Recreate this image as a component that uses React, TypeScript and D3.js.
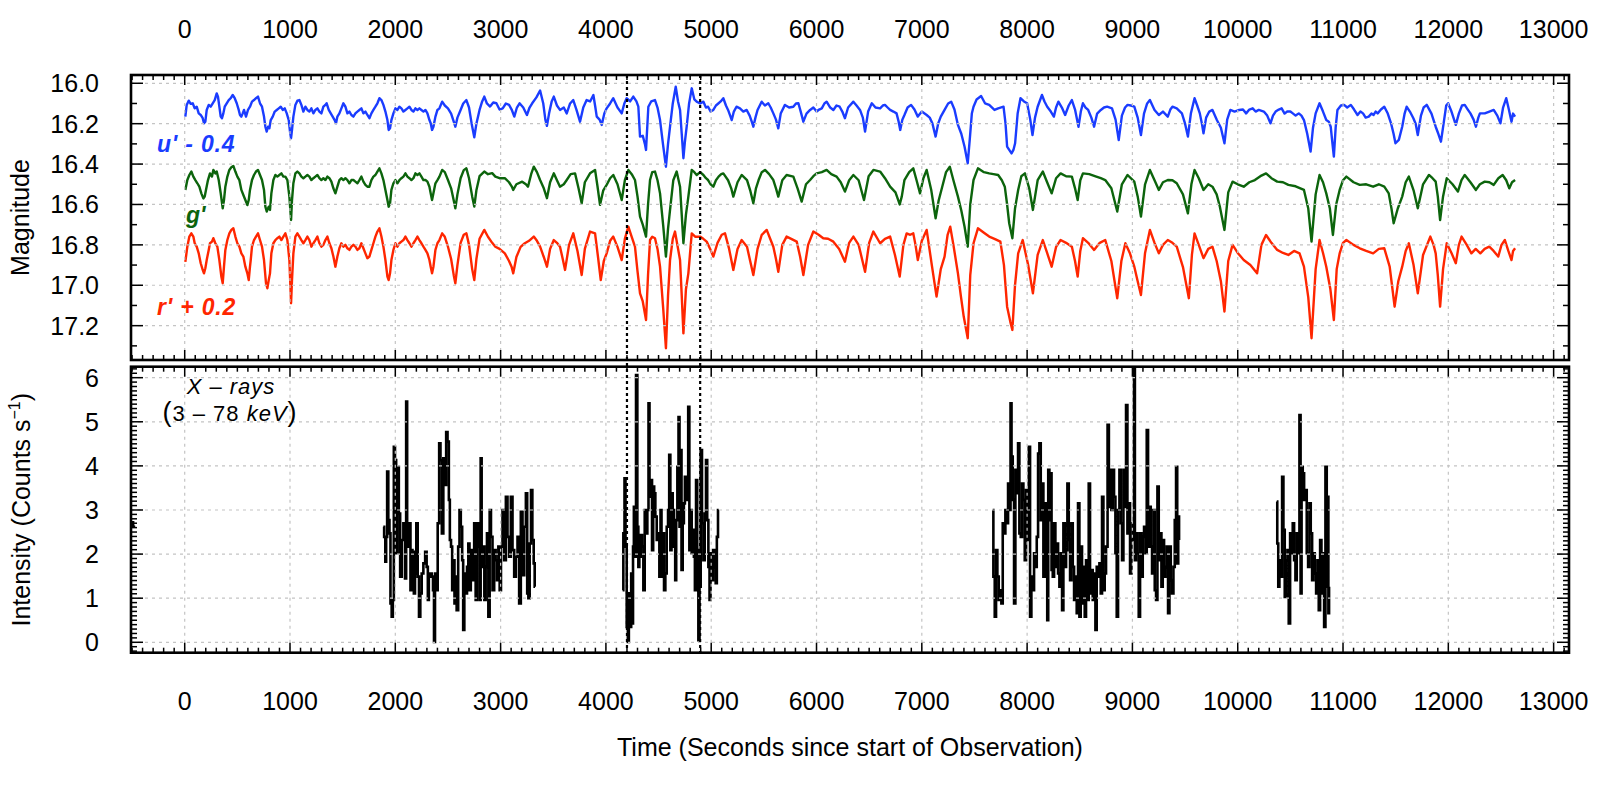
import React from 'react';
import * as d3 from 'd3';

const FONT = "'Liberation Sans', Arial, Helvetica, sans-serif";

// ---------- axis tick values ----------
const timeTicks = [0, 1000, 2000, 3000, 4000, 5000, 6000, 7000, 8000, 9000, 10000, 11000, 12000, 13000];
const magTicks = [16.0, 16.2, 16.4, 16.6, 16.8, 17.0, 17.2];
const rateTicks = [0, 1, 2, 3, 4, 5, 6];

// ---------- dip markers (seconds) ----------
const dipMarkers = [4200, 4895];

// ---------- optical light curves: [time (s), displayed magnitude] ----------
const uBand: [number, number][] = [
  [6,16.165],[19,16.107],[38,16.086],[57,16.102],[76,16.099],[95,16.124],[114,16.116],[133,16.149],[152,16.157],[171,16.173],[183,16.198],[196,16.19],[209,16.132],[228,16.107],[247,16.116],[266,16.099],[285,16.083],[304,16.05],[316,16.066],[329,16.116],[342,16.165],[354,16.173],[367,16.149],[380,16.116],[399,16.099],[418,16.083],[437,16.074],[456,16.058],[475,16.074],[494,16.099],[513,16.132],[525,16.157],[538,16.165],[551,16.149],[563,16.132],[582,16.165],[601,16.132],[620,16.116],[639,16.091],[658,16.083],[677,16.074],[696,16.066],[715,16.099],[734,16.116],[753,16.165],[766,16.215],[779,16.239],[791,16.215],[804,16.223],[817,16.182],[836,16.165],[855,16.14],[874,16.132],[893,16.124],[912,16.116],[931,16.132],[950,16.124],[969,16.149],[988,16.182],[1000,16.239],[1010,16.272],[1019,16.231],[1032,16.165],[1051,16.107],[1070,16.086],[1089,16.083],[1108,16.107],[1127,16.14],[1146,16.116],[1165,16.132],[1184,16.14],[1203,16.124],[1222,16.149],[1241,16.132],[1260,16.124],[1279,16.14],[1298,16.149],[1317,16.116],[1336,16.107],[1348,16.099],[1368,16.132],[1387,16.149],[1405,16.165],[1424,16.182],[1437,16.198],[1450,16.165],[1469,16.149],[1488,16.124],[1507,16.099],[1526,16.116],[1545,16.149],[1564,16.14],[1583,16.157],[1602,16.165],[1621,16.149],[1640,16.14],[1659,16.132],[1678,16.124],[1697,16.149],[1716,16.14],[1735,16.157],[1754,16.173],[1773,16.149],[1792,16.132],[1811,16.116],[1830,16.099],[1849,16.074],[1868,16.083],[1887,16.107],[1906,16.14],[1925,16.182],[1937,16.231],[1950,16.223],[1963,16.182],[1982,16.149],[2001,16.124],[2020,16.132],[2039,16.116],[2058,16.124],[2077,16.14],[2096,16.132],[2115,16.124],[2134,16.116],[2153,16.132],[2172,16.14],[2191,16.124],[2210,16.132],[2229,16.124],[2248,16.132],[2267,16.14],[2286,16.132],[2305,16.149],[2324,16.182],[2336,16.198],[2349,16.231],[2362,16.215],[2381,16.165],[2400,16.132],[2419,16.124],
  [2445,16.091],[2470,16.11],[2500,16.124],[2530,16.15],[2555,16.19],[2570,16.215],[2590,16.17],[2620,16.132],[2645,16.1],[2675,16.083],[2700,16.12],[2725,16.2],[2750,16.267],[2770,16.2],[2800,16.132],[2825,16.09],[2845,16.066],[2870,16.1],[2900,16.115],[2930,16.095],[2960,16.099],[2990,16.13],[3020,16.124],[3050,16.1],[3080,16.107],[3105,16.13],[3130,16.165],[3155,16.12],[3180,16.099],[3215,16.12],[3250,16.157],[3275,16.12],[3300,16.099],[3340,16.07],[3375,16.036],[3405,16.1],[3425,16.18],[3440,16.211],[3460,16.15],[3485,16.09],[3505,16.066],[3535,16.11],[3564,16.132],[3600,16.12],[3628,16.149],[3660,16.1],[3690,16.083],[3720,16.13],[3754,16.19],[3785,16.12],[3817,16.083],[3850,16.09],[3881,16.058],[3900,16.12],[3913,16.165],[3940,16.18],[3960,16.206],[3985,16.15],[4007,16.124],[4040,16.1],[4070,16.074],[4110,16.12],[4150,16.149],[4175,16.1],[4197,16.074],[4230,16.09],[4260,16.066],[4290,16.09],[4308,16.116],[4324,16.264],[4350,16.26],[4370,16.3],[4381,16.33],[4403,16.116],[4430,16.09],[4466,16.083],[4490,16.12],[4514,16.182],[4545,16.314],[4570,16.413],[4590,16.3],[4609,16.215],[4635,16.1],[4663,16.017],[4685,16.09],[4704,16.132],[4720,16.25],[4736,16.371],[4750,16.29],[4767,16.215],[4790,16.1],[4815,16.025],[4840,16.08],[4862,16.091],[4895,16.1],[4926,16.091],[4950,16.12],[4970,16.116],[4995,16.14],[5020,16.132],[5045,16.11],[5070,16.099],[5090,16.09],[5115,16.074],[5140,16.11],[5160,16.132],[5180,16.16],[5195,16.182],[5215,16.14],[5240,16.116],[5273,16.124],[5305,16.14],[5337,16.132],[5365,16.16],[5385,16.19],[5400,16.215],[5420,16.17],[5440,16.132],[5479,16.091],[5510,16.11],[5542,16.099],[5565,16.12],[5590,16.149],[5615,16.18],[5637,16.223],[5660,16.15],[5700,16.107],[5740,16.12],[5780,16.116],[5805,16.1],[5828,16.099],[5850,16.14],[5875,16.19],[5905,16.15],[5939,16.132],[5970,16.12],[6001,16.14],[6025,16.13],[6050,16.124],[6075,16.1],[6096,16.091],[6130,16.12],[6160,16.132],[6190,16.11],[6220,16.116],[6245,16.14],[6270,16.173],[6300,16.12],[6350,16.091],[6380,16.11],[6413,16.132],[6440,16.17],[6461,16.239],[6490,16.14],[6525,16.099],[6560,16.12],[6604,16.124],[6630,16.11],[6650,16.107],[6675,16.12],[6699,16.132],[6730,16.14],[6760,16.149],[6780,16.19],[6795,16.231],[6815,16.18],[6835,16.157],[6865,16.12],[6898,16.107],[6930,16.13],[6962,16.165],[7000,16.14],[7046,16.157],[7075,16.17],[7100,16.198],[7131,16.264],[7155,16.2],[7180,16.165],[7216,16.132],[7250,16.1],[7279,16.091],[7310,16.13],[7343,16.206],[7375,16.25],[7406,16.314],[7436,16.396],[7455,16.28],[7475,16.15],[7491,16.116],[7520,16.08],[7563,16.063],[7600,16.099],[7640,16.107],[7690,16.132],[7725,16.124],[7776,16.116],[7795,16.2],[7810,16.314],[7830,16.33],[7852,16.347],[7870,16.33],[7886,16.297],[7910,16.15],[7937,16.074],[7970,16.09],[8000,16.099],[8030,16.18],[8051,16.256],[8075,16.17],[8100,16.116],[8141,16.058],[8165,16.09],[8191,16.116],[8225,16.14],[8254,16.165],[8275,16.12],[8297,16.091],[8330,16.12],[8361,16.157],[8395,16.11],[8425,16.083],[8455,16.13],[8488,16.215],[8510,16.14],[8530,16.099],[8555,16.12],[8580,16.132],[8610,16.17],[8636,16.215],[8665,16.15],[8700,16.132],[8730,16.12],[8760,16.116],[8806,16.124],[8840,16.18],[8870,16.281],[8900,16.16],[8930,16.12],[8954,16.107],[8985,16.11],[9018,16.116],[9050,16.17],[9081,16.256],[9110,16.15],[9140,16.1],[9166,16.083],[9190,16.11],[9210,16.132],[9251,16.157],[9290,16.14],[9336,16.165],[9360,16.13],[9380,16.116],[9421,16.124],[9470,16.149],[9500,16.2],[9527,16.264],[9555,16.15],[9590,16.074],[9615,16.11],[9640,16.149],[9660,16.2],[9675,16.248],[9700,16.17],[9730,16.14],[9760,16.132],[9802,16.182],[9840,16.22],[9874,16.297],[9900,16.18],[9930,16.132],[9970,16.14],[10014,16.132],[10050,16.13],[10080,16.149],[10110,16.13],[10142,16.124],[10170,16.14],[10200,16.132],[10248,16.14],[10280,16.16],[10311,16.198],[10335,16.16],[10360,16.14],[10390,16.13],[10417,16.124],[10445,16.15],[10470,16.14],[10500,16.14],[10523,16.149],[10550,16.16],[10580,16.149],[10605,16.16],[10629,16.182],[10660,16.25],[10692,16.338],[10715,16.22],[10740,16.149],[10777,16.099],[10810,16.14],[10841,16.182],[10865,16.19],[10883,16.215],[10900,16.3],[10913,16.363],[10930,16.22],[10947,16.132],[10980,16.11],[11010,16.107],[11040,16.12],[11074,16.107],[11105,16.13],[11138,16.157],[11165,16.14],[11190,16.149],[11215,16.17],[11244,16.165],[11270,16.15],[11290,16.157],[11310,16.14],[11329,16.149],[11360,16.13],[11392,16.116],[11425,16.15],[11456,16.198],[11480,16.25],[11498,16.297],[11530,16.28],[11562,16.215],[11585,16.15],[11604,16.116],[11635,16.14],[11668,16.173],[11690,16.2],[11710,16.256],[11740,16.16],[11765,16.12],[11795,16.107],[11840,16.15],[11880,16.215],[11905,16.25],[11930,16.289],[11955,16.2],[11980,16.11],[11998,16.099],[12030,16.14],[12071,16.206],[12100,16.15],[12130,16.11],[12156,16.107],[12185,16.13],[12210,16.149],[12240,16.18],[12262,16.215],[12285,16.17],[12300,16.149],[12346,16.149],[12390,16.14],[12431,16.132],[12465,16.16],[12495,16.198],[12520,16.12],[12550,16.074],[12575,16.13],[12600,16.19],[12615,16.15],[12634,16.165],
];

const gBand: [number, number][] = [
  [6,16.528],[25,16.479],[44,16.454],[63,16.437],[82,16.462],[101,16.479],[120,16.495],[139,16.512],[158,16.545],[177,16.57],[190,16.561],[202,16.528],[221,16.479],[240,16.446],[259,16.462],[272,16.429],[291,16.446],[304,16.437],[323,16.479],[342,16.545],[361,16.619],[373,16.578],[386,16.512],[405,16.462],[424,16.429],[443,16.416],[462,16.409],[481,16.437],[500,16.462],[519,16.479],[538,16.528],[557,16.553],[576,16.578],[595,16.603],[608,16.578],[620,16.528],[639,16.479],[658,16.454],[677,16.437],[696,16.429],[715,16.454],[734,16.479],[753,16.528],[766,16.611],[779,16.635],[798,16.611],[810,16.627],[823,16.545],[842,16.479],[861,16.454],[880,16.462],[899,16.454],[918,16.446],[937,16.462],[956,16.462],[975,16.479],[994,16.561],[1010,16.677],[1019,16.578],[1032,16.495],[1051,16.446],[1070,16.437],[1089,16.446],[1108,16.462],[1127,16.47],[1146,16.462],[1165,16.454],[1184,16.462],[1203,16.479],[1222,16.47],[1241,16.462],[1260,16.454],[1279,16.47],[1298,16.479],[1317,16.47],[1336,16.479],[1355,16.462],[1374,16.47],[1393,16.487],[1412,16.52],[1431,16.545],[1450,16.512],[1469,16.479],[1488,16.47],[1507,16.479],[1526,16.47],[1545,16.479],[1564,16.495],[1583,16.479],[1602,16.479],[1621,16.487],[1640,16.495],[1659,16.479],[1678,16.462],[1697,16.487],[1716,16.503],[1735,16.512],[1754,16.512],[1773,16.479],[1792,16.462],[1811,16.454],[1830,16.437],[1849,16.421],[1868,16.446],[1887,16.479],[1906,16.528],[1925,16.578],[1937,16.611],[1950,16.594],[1963,16.528],[1982,16.495],[2001,16.479],[2020,16.495],[2039,16.479],[2058,16.47],[2077,16.462],[2096,16.446],[2115,16.462],[2134,16.47],[2153,16.479],[2172,16.47],[2191,16.446],[2210,16.454],[2229,16.446],[2248,16.462],[2267,16.479],[2286,16.479],[2305,16.487],[2324,16.512],[2336,16.545],[2349,16.578],[2362,16.545],[2381,16.495],[2400,16.479],[2419,16.462],
  [2445,16.429],[2470,16.44],[2500,16.479],[2530,16.52],[2555,16.58],[2570,16.619],[2590,16.55],[2620,16.47],[2650,16.43],[2675,16.421],[2700,16.47],[2730,16.56],[2750,16.61],[2770,16.53],[2800,16.46],[2845,16.437],[2880,16.45],[2920,16.445],[2950,16.462],[2990,16.47],[3040,16.47],[3080,16.49],[3105,16.51],[3120,16.528],[3150,16.5],[3205,16.487],[3240,16.5],[3260,16.512],[3290,16.45],[3315,16.413],[3345,16.44],[3375,16.479],[3410,16.52],[3440,16.569],[3470,16.49],[3505,16.446],[3535,16.48],[3564,16.512],[3600,16.5],[3628,16.479],[3665,16.45],[3707,16.446],[3740,16.52],[3770,16.594],[3800,16.49],[3849,16.446],[3897,16.429],[3920,16.51],[3944,16.602],[3975,16.53],[4007,16.503],[4040,16.47],[4070,16.454],[4110,16.5],[4150,16.578],[4180,16.48],[4213,16.429],[4245,16.45],[4276,16.479],[4300,16.56],[4324,16.66],[4350,16.7],[4381,16.759],[4400,16.6],[4419,16.479],[4440,16.44],[4466,16.437],[4490,16.48],[4514,16.545],[4545,16.71],[4570,16.858],[4590,16.72],[4609,16.627],[4640,16.48],[4672,16.437],[4704,16.512],[4720,16.65],[4736,16.792],[4760,16.65],[4783,16.561],[4815,16.429],[4840,16.44],[4862,16.454],[4895,16.44],[4926,16.454],[4950,16.47],[4970,16.479],[4995,16.5],[5020,16.512],[5045,16.48],[5070,16.462],[5095,16.45],[5115,16.446],[5160,16.48],[5190,16.52],[5210,16.561],[5250,16.49],[5289,16.454],[5340,16.479],[5370,16.53],[5400,16.594],[5425,16.52],[5450,16.479],[5480,16.44],[5511,16.429],[5550,16.45],[5590,16.479],[5615,16.52],[5637,16.561],[5675,16.48],[5716,16.454],[5780,16.462],[5820,16.52],[5859,16.586],[5900,16.5],[5939,16.479],[5970,16.46],[6001,16.446],[6050,16.44],[6096,16.429],[6140,16.45],[6191,16.462],[6230,16.49],[6270,16.536],[6310,16.48],[6350,16.454],[6400,16.48],[6451,16.578],[6495,16.46],[6540,16.429],[6604,16.437],[6650,16.47],[6699,16.512],[6750,16.54],[6790,16.6],[6810,16.56],[6835,16.479],[6880,16.44],[6919,16.421],[6950,16.48],[6983,16.545],[7015,16.47],[7046,16.429],[7090,16.53],[7131,16.668],[7160,16.58],[7194,16.512],[7230,16.44],[7266,16.413],[7300,16.48],[7343,16.561],[7375,16.63],[7406,16.71],[7436,16.809],[7460,16.6],[7491,16.479],[7533,16.421],[7590,16.44],[7640,16.446],[7680,16.45],[7725,16.454],[7760,16.48],[7788,16.512],[7810,16.6],[7830,16.693],[7860,16.767],[7885,16.62],[7915,16.528],[7945,16.46],[7979,16.446],[8020,16.52],[8055,16.627],[8100,16.48],[8149,16.437],[8190,16.49],[8233,16.545],[8275,16.47],[8318,16.446],[8370,16.46],[8425,16.462],[8455,16.52],[8480,16.578],[8505,16.48],[8530,16.446],[8590,16.45],[8657,16.462],[8700,16.47],[8742,16.479],[8800,16.52],[8856,16.635],[8900,16.5],[8954,16.454],[9018,16.487],[9050,16.56],[9081,16.66],[9120,16.5],[9166,16.429],[9210,16.48],[9251,16.528],[9290,16.49],[9336,16.479],[9380,16.48],[9421,16.495],[9480,16.55],[9527,16.644],[9560,16.5],[9590,16.429],[9630,16.47],[9675,16.528],[9720,16.5],[9760,16.512],[9800,16.55],[9830,16.61],[9874,16.726],[9910,16.54],[9951,16.487],[10000,16.5],[10057,16.512],[10110,16.49],[10163,16.479],[10215,16.46],[10269,16.446],[10320,16.47],[10375,16.487],[10430,16.49],[10481,16.503],[10550,16.51],[10629,16.528],[10670,16.62],[10701,16.784],[10740,16.55],[10777,16.454],[10810,16.49],[10841,16.545],[10875,16.62],[10904,16.751],[10935,16.6],[10968,16.528],[11000,16.48],[11032,16.462],[11100,16.49],[11159,16.503],[11220,16.5],[11286,16.512],[11340,16.5],[11392,16.512],[11434,16.545],[11460,16.62],[11481,16.693],[11520,16.62],[11562,16.561],[11595,16.49],[11625,16.462],[11670,16.53],[11710,16.619],[11760,16.5],[11816,16.454],[11850,16.47],[11880,16.487],[11900,16.56],[11922,16.677],[11950,16.56],[11985,16.47],[12040,16.5],[12091,16.536],[12125,16.48],[12156,16.454],[12210,16.49],[12262,16.528],[12300,16.5],[12346,16.487],[12390,16.49],[12431,16.503],[12475,16.47],[12516,16.454],[12550,16.48],[12579,16.52],[12605,16.49],[12634,16.479],
];

const rBand: [number, number][] = [
  [6,16.884],[25,16.809],[44,16.759],[63,16.743],[82,16.759],[95,16.792],[114,16.809],[133,16.842],[152,16.891],[171,16.924],[183,16.941],[196,16.916],[209,16.875],[228,16.825],[240,16.792],[259,16.784],[272,16.767],[291,16.792],[310,16.809],[329,16.875],[348,16.957],[361,16.99],[373,16.908],[386,16.825],[405,16.776],[424,16.743],[443,16.726],[462,16.718],[481,16.759],[500,16.792],[519,16.809],[538,16.842],[557,16.858],[576,16.908],[595,16.941],[608,16.974],[620,16.908],[627,16.875],[639,16.809],[658,16.776],[677,16.759],[696,16.743],[715,16.776],[734,16.809],[753,16.875],[772,16.99],[785,17.015],[798,16.974],[810,16.941],[823,16.842],[842,16.792],[861,16.776],[880,16.767],[899,16.759],[918,16.776],[937,16.759],[956,16.743],[975,16.776],[994,16.875],[1010,17.089],[1019,16.974],[1032,16.842],[1051,16.759],[1070,16.743],[1089,16.759],[1108,16.776],[1127,16.792],[1146,16.776],[1165,16.759],[1184,16.776],[1203,16.809],[1222,16.792],[1241,16.776],[1260,16.759],[1279,16.792],[1298,16.809],[1317,16.8],[1336,16.776],[1355,16.759],[1374,16.792],[1393,16.817],[1412,16.858],[1431,16.908],[1450,16.858],[1469,16.817],[1488,16.792],[1507,16.809],[1526,16.8],[1545,16.817],[1564,16.825],[1583,16.809],[1602,16.8],[1621,16.809],[1640,16.825],[1659,16.817],[1678,16.792],[1697,16.817],[1716,16.842],[1735,16.866],[1754,16.858],[1773,16.825],[1792,16.792],[1811,16.759],[1830,16.734],[1849,16.718],[1868,16.759],[1887,16.809],[1906,16.875],[1925,16.957],[1937,16.974],[1950,16.941],[1963,16.875],[1982,16.825],[2001,16.792],[2020,16.809],[2039,16.792],[2058,16.784],[2077,16.776],[2096,16.759],[2115,16.776],[2134,16.792],[2153,16.809],[2172,16.792],[2191,16.776],[2210,16.759],[2229,16.776],[2248,16.792],[2267,16.809],[2286,16.825],[2305,16.842],[2324,16.875],[2336,16.908],[2349,16.941],[2362,16.908],[2381,16.825],[2400,16.792],[2419,16.776],
  [2445,16.743],[2470,16.76],[2500,16.809],[2530,16.87],[2555,16.95],[2570,16.99],[2590,16.9],[2620,16.79],[2650,16.75],[2675,16.743],[2700,16.8],[2730,16.92],[2750,16.974],[2770,16.87],[2800,16.77],[2845,16.726],[2880,16.76],[2920,16.79],[2950,16.809],[2990,16.82],[3040,16.842],[3080,16.88],[3105,16.91],[3120,16.941],[3150,16.86],[3190,16.81],[3230,16.792],[3270,16.78],[3315,16.759],[3345,16.78],[3375,16.809],[3410,16.86],[3440,16.908],[3470,16.82],[3505,16.776],[3535,16.79],[3564,16.809],[3590,16.87],[3612,16.924],[3650,16.8],[3690,16.743],[3730,16.83],[3770,16.949],[3800,16.82],[3849,16.734],[3897,16.743],[3925,16.86],[3951,16.974],[3980,16.88],[4007,16.842],[4040,16.78],[4070,16.759],[4110,16.81],[4150,16.875],[4180,16.77],[4213,16.71],[4245,16.76],[4276,16.809],[4300,16.93],[4324,17.04],[4350,17.08],[4381,17.172],[4400,16.95],[4419,16.776],[4440,16.76],[4466,16.767],[4490,16.82],[4514,16.908],[4545,17.122],[4570,17.312],[4590,17.05],[4609,16.875],[4635,16.77],[4656,16.734],[4704,16.875],[4720,17.05],[4736,17.238],[4760,17.02],[4783,16.941],[4815,16.743],[4850,16.76],[4894,16.759],[4925,16.77],[4957,16.784],[4990,16.82],[5020,16.858],[5060,16.79],[5100,16.75],[5131,16.743],[5170,16.82],[5210,16.924],[5250,16.82],[5289,16.776],[5340,16.809],[5370,16.88],[5400,16.949],[5440,16.82],[5480,16.75],[5527,16.726],[5560,16.77],[5590,16.809],[5615,16.87],[5637,16.933],[5675,16.8],[5716,16.759],[5760,16.77],[5812,16.784],[5845,16.86],[5875,16.949],[5920,16.8],[5970,16.734],[6020,16.75],[6064,16.767],[6110,16.77],[6160,16.784],[6215,16.82],[6270,16.883],[6310,16.79],[6350,16.759],[6400,16.8],[6461,16.933],[6500,16.79],[6540,16.734],[6604,16.792],[6650,16.77],[6699,16.759],[6745,16.85],[6790,16.957],[6825,16.8],[6856,16.743],[6890,16.75],[6919,16.743],[6940,16.8],[6962,16.875],[7000,16.78],[7046,16.726],[7095,16.9],[7140,17.056],[7180,16.92],[7216,16.858],[7245,16.75],[7270,16.71],[7300,16.8],[7343,16.941],[7370,17.05],[7398,17.155],[7436,17.262],[7460,16.95],[7491,16.792],[7533,16.718],[7590,16.74],[7640,16.759],[7690,16.77],[7746,16.784],[7780,16.9],[7810,17.106],[7840,17.18],[7860,17.221],[7885,17.0],[7915,16.842],[7958,16.776],[8010,16.9],[8055,17.04],[8100,16.85],[8149,16.776],[8190,16.84],[8233,16.908],[8275,16.81],[8318,16.776],[8370,16.79],[8425,16.809],[8455,16.88],[8480,16.957],[8505,16.83],[8530,16.767],[8580,16.79],[8636,16.825],[8690,16.79],[8742,16.776],[8800,16.88],[8856,17.064],[8895,16.88],[8933,16.792],[8975,16.84],[9018,16.908],[9050,16.98],[9081,17.048],[9120,16.84],[9166,16.726],[9210,16.79],[9251,16.842],[9290,16.8],[9336,16.776],[9380,16.79],[9421,16.809],[9480,16.91],[9536,17.064],[9565,16.85],[9590,16.743],[9630,16.8],[9675,16.866],[9720,16.82],[9760,16.809],[9800,16.88],[9840,16.98],[9874,17.13],[9910,16.88],[9951,16.8],[10000,16.84],[10057,16.875],[10120,16.9],[10184,16.941],[10225,16.8],[10269,16.751],[10320,16.79],[10375,16.825],[10430,16.84],[10481,16.85],[10535,16.83],[10587,16.842],[10629,16.908],[10670,17.06],[10701,17.262],[10740,16.92],[10777,16.776],[10810,16.84],[10841,16.908],[10880,17.02],[10913,17.172],[10940,16.92],[10968,16.842],[11000,16.79],[11032,16.776],[11100,16.8],[11159,16.817],[11220,16.83],[11286,16.842],[11340,16.82],[11392,16.817],[11443,16.908],[11465,17.0],[11490,17.106],[11525,16.98],[11562,16.908],[11595,16.83],[11625,16.792],[11670,16.9],[11710,17.04],[11760,16.85],[11829,16.759],[11860,16.8],[11880,16.842],[11900,16.95],[11922,17.106],[11950,16.92],[11985,16.792],[12030,16.84],[12071,16.891],[12100,16.8],[12126,16.759],[12175,16.8],[12219,16.842],[12260,16.82],[12304,16.842],[12345,16.82],[12389,16.809],[12430,16.83],[12474,16.858],[12505,16.8],[12537,16.776],[12570,16.83],[12600,16.875],[12615,16.83],[12634,16.817],
];

// ---------- X-ray light curve segments: [time (s), counts/s] ----------
const xraySeg0: [number, number][] = [[-510, 2.72], [-470, 2.62]];

const xraySeg1: [number, number][] = [
  [1886,2.62],[1902,2.39],[1908,1.83],[1918,2.39],[1927,3.87],[1940,2.77],[1949,2.47],[1959,0.88],[1972,0.58],[1981,0.96],[1991,4.43],[2003,4.13],[2013,2.02],[2029,3.98],[2038,2.92],[2054,1.49],[2067,2.32],[2086,2.7],[2098,1.45],[2108,5.46],[2117,2.17],[2124,2.66],[2139,2.7],[2149,1.18],[2155,2.09],[2171,2.05],[2181,1.11],[2193,1.56],[2206,2.7],[2219,1.49],[2231,0.58],[2244,1.11],[2257,1.56],[2276,1.79],[2291,2.05],[2304,1.71],[2314,0.96],[2323,1.49],[2339,1.56],[2352,1.49],[2364,1.18],[2371,0.01],[2383,1.56],[2396,1.18],[2409,2.7],[2424,4.51],[2434,4.13],[2450,2.47],[2462,4.17],[2478,3.57],[2488,4.77],[2504,4.55],[2513,3.23],[2523,2.32],[2535,2.17],[2545,1.18],[2557,1.86],[2567,0.88],[2576,1.49],[2589,0.73],[2605,2.17],[2614,3.0],[2630,2.62],[2640,1.86],[2649,0.28],[2662,1.56],[2675,1.11],[2687,1.71],[2700,2.24],[2709,1.18],[2725,2.09],[2741,1.41],[2757,2.7],[2769,0.96],[2782,2.7],[2795,2.17],[2807,0.96],[2814,4.17],[2826,1.71],[2839,2.17],[2852,0.96],[2864,1.71],[2877,2.47],[2890,0.58],[2902,3.0],[2915,2.39],[2931,1.18],[2947,2.09],[2959,1.86],[2972,1.41],[2985,2.17],[2997,1.18],[3010,2.17],[3026,3.0],[3042,1.86],[3058,3.3],[3073,2.39],[3089,1.94],[3105,3.3],[3121,2.09],[3137,1.49],[3153,1.94],[3168,2.39],[3184,0.88],[3200,2.96],[3216,1.52],[3232,2.62],[3248,3.38],[3257,1.11],[3270,1.0],[3282,2.24],[3295,3.45],[3308,2.32],[3320,1.79],[3327,1.26],
];

const xraySeg2: [number, number][] = [
  [4159,1.18],[4172,2.47],[4181,3.72],[4191,2.17],[4204,0.35],[4213,0.01],[4223,1.11],[4235,0.35],[4245,1.56],[4254,0.43],[4261,2.17],[4270,3.07],[4280,1.94],[4292,6.06],[4305,2.62],[4311,1.71],[4324,1.94],[4337,2.43],[4349,2.17],[4362,1.18],[4375,3.0],[4387,2.47],[4400,3.0],[4409,5.42],[4419,3.3],[4432,3.68],[4444,2.09],[4454,3.53],[4463,3.38],[4476,2.85],[4489,2.32],[4501,2.47],[4514,1.49],[4523,3.0],[4533,1.49],[4546,2.47],[4558,1.18],[4571,1.56],[4584,2.62],[4596,3.0],[4606,4.25],[4618,2.09],[4628,3.38],[4641,3.0],[4653,2.17],[4663,1.41],[4672,2.77],[4685,3.98],[4694,5.11],[4704,2.62],[4713,4.36],[4723,1.64],[4736,2.7],[4745,3.15],[4755,3.75],[4764,3.38],[4777,3.23],[4786,5.34],[4799,2.09],[4808,3.0],[4821,2.02],[4831,2.55],[4840,1.94],[4850,1.18],[4862,3.68],[4872,2.09],[4884,0.05],[4894,1.26],[4906,4.36],[4919,2.7],[4932,1.86],[4944,2.92],[4957,4.13],[4967,2.77],[4979,1.71],[4989,0.96],[4998,2.02],[5011,1.41],[5024,2.09],[5036,1.71],[5049,1.34],[5058,2.39],[5071,3.0],
];

const xraySeg3: [number, number][] = [
  [7673,3.0],[7686,1.49],[7699,0.58],[7711,2.09],[7724,1.49],[7737,0.96],[7749,1.18],[7762,0.88],[7775,2.7],[7787,2.47],[7800,3.0],[7813,2.7],[7825,3.6],[7838,3.0],[7847,5.42],[7857,4.21],[7870,3.23],[7882,0.88],[7895,3.91],[7908,3.38],[7920,4.51],[7933,2.47],[7946,2.39],[7958,3.6],[7971,3.23],[7984,1.86],[7996,3.45],[8009,2.32],[8022,4.43],[8034,0.58],[8047,1.49],[8060,1.18],[8072,2.02],[8085,1.71],[8098,2.39],[8110,4.28],[8123,4.51],[8136,2.77],[8148,3.6],[8161,1.49],[8174,3.15],[8186,2.24],[8196,0.5],[8205,3.91],[8218,2.77],[8227,3.83],[8237,1.64],[8250,1.49],[8262,2.7],[8275,1.71],[8288,2.24],[8300,1.56],[8313,1.26],[8326,2.02],[8338,0.73],[8351,2.7],[8364,1.71],[8376,2.09],[8389,3.6],[8402,2.32],[8414,1.41],[8427,2.7],[8440,1.71],[8452,0.96],[8465,1.49],[8477,0.66],[8490,3.15],[8503,0.58],[8515,2.17],[8528,0.88],[8541,1.71],[8553,0.58],[8566,1.86],[8579,0.96],[8591,3.6],[8604,1.11],[8617,1.64],[8629,0.96],[8642,1.56],[8655,0.28],[8667,1.71],[8680,1.49],[8693,1.79],[8705,1.11],[8718,3.3],[8731,1.18],[8743,1.56],[8756,2.17],[8772,4.93],[8781,3.07],[8794,3.91],[8807,3.0],[8819,3.91],[8832,3.3],[8845,2.02],[8857,0.58],[8870,3.0],[8883,3.91],[8895,2.7],[8908,1.86],[8921,3.91],[8933,3.07],[8946,5.38],[8959,2.47],[8971,3.15],[8984,1.56],[8997,2.32],[9009,2.7],[9019,6.3],[9028,1.86],[9041,2.47],[9054,2.02],[9066,0.58],[9079,2.47],[9092,1.49],[9104,2.39],[9117,2.62],[9130,2.02],[9142,4.81],[9155,2.17],[9168,3.07],[9180,2.17],[9193,1.56],[9206,3.0],[9218,1.18],[9231,0.96],[9244,3.53],[9256,1.86],[9269,2.47],[9282,1.26],[9294,2.32],[9307,1.49],[9320,1.71],[9332,2.17],[9345,0.66],[9358,2.17],[9370,1.41],[9383,1.11],[9396,1.71],[9408,2.77],[9421,3.98],[9430,1.79],[9440,2.85],[9446,2.32],
];

const xraySeg4: [number, number][] = [
  [10371,3.19],[10380,2.24],[10390,1.26],[10402,1.86],[10415,1.49],[10428,3.75],[10440,2.55],[10453,1.03],[10466,1.86],[10478,2.09],[10491,0.43],[10504,2.47],[10516,2.02],[10529,2.7],[10542,1.86],[10554,1.41],[10567,2.47],[10580,2.02],[10592,5.15],[10602,1.11],[10611,3.98],[10624,3.83],[10637,3.23],[10649,3.45],[10662,2.02],[10675,1.71],[10687,3.15],[10700,2.47],[10713,1.41],[10725,2.02],[10738,1.56],[10751,1.11],[10763,1.86],[10776,0.73],[10789,2.32],[10801,1.11],[10814,2.02],[10827,0.35],[10839,3.98],[10852,1.26],[10858,3.3],[10864,0.66],[10871,1.26],
];

const xraySegments = [xraySeg0, xraySeg1, xraySeg2, xraySeg3, xraySeg4];

const COLORS = { u: '#1a3cff', g: '#0c640c', r: '#ff2600' };

export default function App() {
  const L = 131, R = 1569;
  const T1 = 75, B1 = 360, T2 = 366.7, B2 = 652.7;

  const x = d3.scaleLinear().domain([-510, 13146]).range([L, R]);
  const yMag = d3.scaleLinear().domain([15.959, 17.37]).range([T1, B1]);
  const yRate = d3.scaleLinear().domain([-0.236, 6.249]).range([B2, T2]);

  const xMinor = d3.range(-500, 13150, 100).filter((v) => v % 1000 !== 0 && v > x.domain()[0] && v < x.domain()[1]);
  const magMinor = d3.range(0, 7).map((i) => 16.1 + 0.2 * i);
  const rateMinor = d3.range(-2, 63).map((i) => i / 10).filter((v) => Math.abs(v - Math.round(v)) > 1e-6);

  const magLine = d3.line<[number, number]>().x((d) => x(d[0])).y((d) => yMag(d[1]));
  const rateLine = d3.line<[number, number]>().x((d) => x(d[0])).y((d) => yRate(d[1])).curve(d3.curveStep);

  const gridStyle = { stroke: '#c4c4c4', strokeWidth: 1.2, strokeDasharray: '3,4', fill: 'none' } as const;
  const tickStroke = { stroke: '#000', strokeWidth: 1.5 } as const;

  const panelTicks = (top: number, bottom: number, yScale: d3.ScaleLinear<number, number>, yMaj: number[], yMin: number[]) => (
    <g>
      {timeTicks.map((t) => (
        <g key={'xm' + t}>
          <line x1={x(t)} x2={x(t)} y1={top} y2={top + 10} {...tickStroke} />
          <line x1={x(t)} x2={x(t)} y1={bottom} y2={bottom - 10} {...tickStroke} />
        </g>
      ))}
      {xMinor.map((t) => (
        <g key={'xn' + t}>
          <line x1={x(t)} x2={x(t)} y1={top} y2={top + 5} {...tickStroke} />
          <line x1={x(t)} x2={x(t)} y1={bottom} y2={bottom - 5} {...tickStroke} />
        </g>
      ))}
      {yMaj.map((v) => (
        <g key={'ym' + v}>
          <line x1={L} x2={L + 12} y1={yScale(v)} y2={yScale(v)} {...tickStroke} />
          <line x1={R} x2={R - 12} y1={yScale(v)} y2={yScale(v)} {...tickStroke} />
        </g>
      ))}
      {yMin.map((v) => (
        <g key={'yn' + v}>
          <line x1={L} x2={L + 6} y1={yScale(v)} y2={yScale(v)} {...tickStroke} />
          <line x1={R} x2={R - 6} y1={yScale(v)} y2={yScale(v)} {...tickStroke} />
        </g>
      ))}
    </g>
  );

  const panelGrid = (top: number, bottom: number, yScale: d3.ScaleLinear<number, number>, yMaj: number[]) => (
    <g>
      {timeTicks.map((t) => (
        <line key={'gx' + t} x1={x(t)} x2={x(t)} y1={top} y2={bottom} {...gridStyle} />
      ))}
      {yMaj.map((v) => (
        <line key={'gy' + v} x1={L} x2={R} y1={yScale(v)} y2={yScale(v)} {...gridStyle} />
      ))}
    </g>
  );

  return (
    <svg
      width={1600}
      height={800}
      style={{ position: 'absolute', left: 0, top: 0, background: '#fff' }}
      fontFamily={FONT}
    >
      <defs>
        <clipPath id="clipTop">
          <rect x={L} y={T1} width={R - L} height={B1 - T1} />
        </clipPath>
        <clipPath id="clipBottom">
          <rect x={L} y={T2} width={R - L} height={B2 - T2} />
        </clipPath>
      </defs>
      <rect x={0} y={0} width={1600} height={800} fill="#fff" />

      {/* ---------- upper panel data ---------- */}
      <g clipPath="url(#clipTop)" fill="none" strokeWidth={2.4} strokeLinejoin="round">
        <path d={magLine(uBand) || ''} stroke={COLORS.u} />
        <path d={magLine(gBand) || ''} stroke={COLORS.g} />
        <path d={magLine(rBand) || ''} stroke={COLORS.r} />
      </g>

      {/* ---------- lower panel data ---------- */}
      <g clipPath="url(#clipBottom)" fill="none" stroke="#000" strokeWidth={2.6}>
        {xraySegments.map((seg, i) => (
          <path key={i} d={rateLine(seg) || ''} />
        ))}
      </g>

      {/* grids drawn on top of data */}
      {panelGrid(T1, B1, yMag, magTicks)}
      {panelGrid(T2, B2, yRate, rateTicks)}

      {/* ticks */}
      {panelTicks(T1, B1, yMag, magTicks, magMinor)}
      {panelTicks(T2, B2, yRate, rateTicks, rateMinor)}

      {/* frames */}
      <rect x={L} y={T1} width={R - L} height={B1 - T1} fill="none" stroke="#000" strokeWidth={2.6} />
      <rect x={L} y={T2} width={R - L} height={B2 - T2} fill="none" stroke="#000" strokeWidth={2.6} />

      {/* dip markers */}
      {dipMarkers.map((t) => (
        <line key={'dm' + t} x1={x(t)} x2={x(t)} y1={T1} y2={B2} stroke="#000" strokeWidth={2.2} strokeDasharray="3,3" />
      ))}

      {/* tick labels */}
      <g fontSize={25} fill="#000">
        {timeTicks.map((t) => (
          <text key={'tt' + t} x={x(t)} y={38} textAnchor="middle">{t}</text>
        ))}
        {timeTicks.map((t) => (
          <text key={'bt' + t} x={x(t)} y={710} textAnchor="middle">{t}</text>
        ))}
        {magTicks.map((v) => (
          <text key={'ml' + v} x={99} y={yMag(v)} dy="0.36em" textAnchor="end">{v.toFixed(1)}</text>
        ))}
        {rateTicks.map((v) => (
          <text key={'rl' + v} x={99} y={yRate(v)} dy="0.36em" textAnchor="end">{v}</text>
        ))}
      </g>

      {/* axis titles */}
      <text x={(L + R) / 2} y={756} textAnchor="middle" fontSize={25}>
        Time (Seconds since start of Observation)
      </text>
      <text transform={`translate(29,${(T1 + B1) / 2}) rotate(-90)`} textAnchor="middle" fontSize={25}>
        Magnitude
      </text>
      <text transform={`translate(30,${(T2 + B2) / 2}) rotate(-90)`} textAnchor="middle" fontSize={25}>
        Intensity (Counts s<tspan dy={-10} fontSize={16}>−1</tspan>
        <tspan dy={10}>)</tspan>
      </text>

      {/* band labels */}
      <g fontSize={23} fontWeight="bold" fontStyle="italic">
        <text x={157} y={151.5} fill={COLORS.u} letterSpacing={0.8}>u' - 0.4</text>
        <text x={186} y={223} fill={COLORS.g}>g'</text>
        <text x={157} y={315} fill={COLORS.r} letterSpacing={0.8}>r' + 0.2</text>
      </g>

      {/* X-ray label */}
      <g fontSize={22} letterSpacing={1} fill="#000">
        <text x={231} y={394} textAnchor="middle">
          <tspan fontStyle="italic">X</tspan> – <tspan fontStyle="italic">rays</tspan>
        </text>
        <text x={230} y={421} textAnchor="middle">
          <tspan fontSize={27}>(</tspan>3 – 78 <tspan fontStyle="italic">keV</tspan><tspan fontSize={27}>)</tspan>
        </text>
      </g>
    </svg>
  );
}
